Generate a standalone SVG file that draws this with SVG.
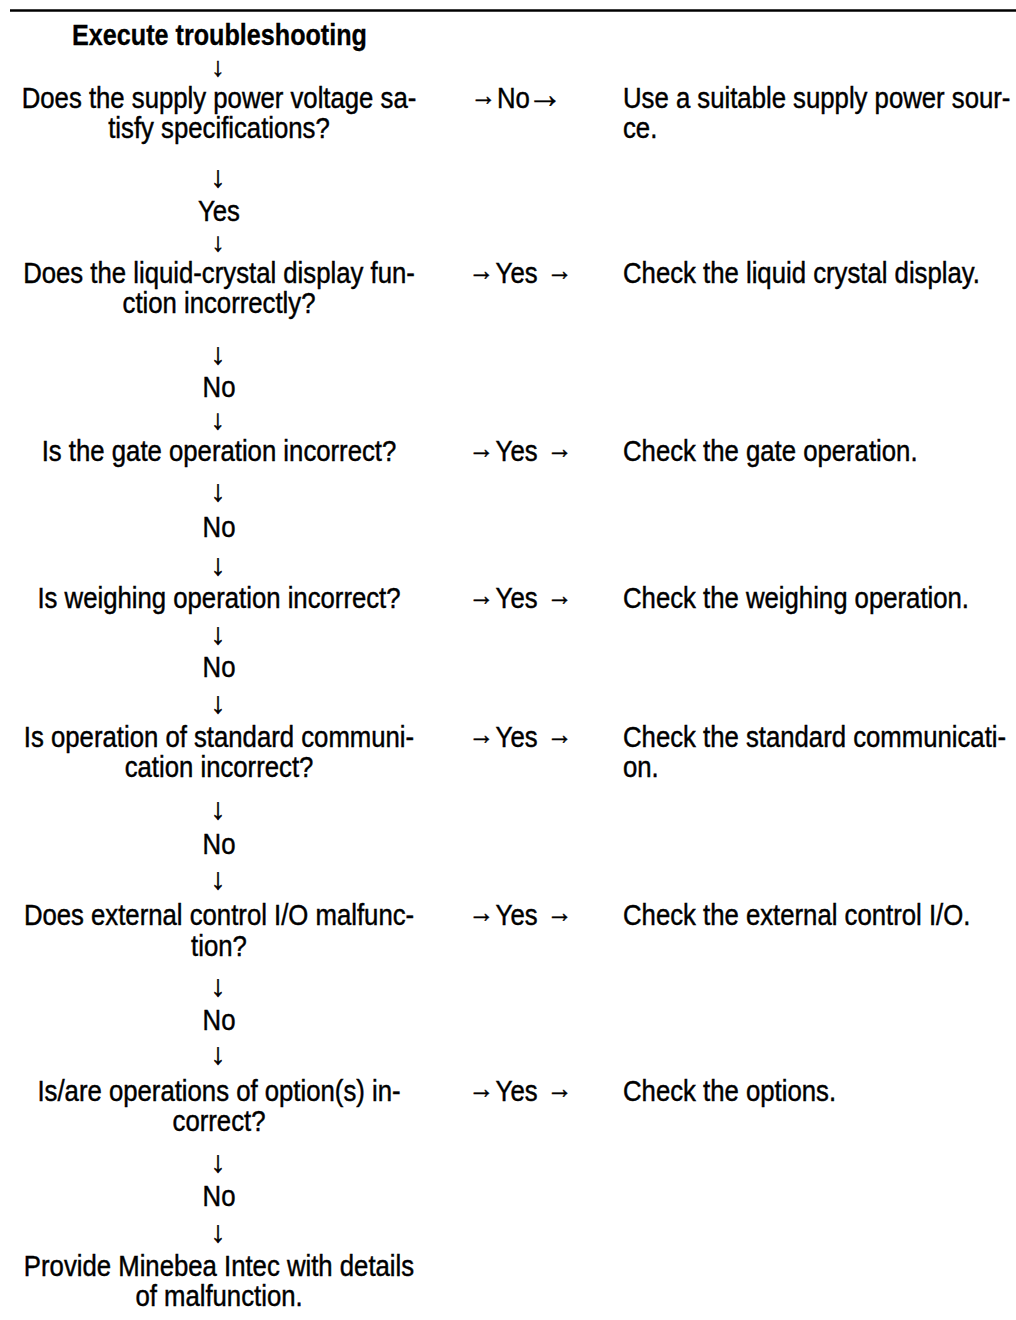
<svg xmlns="http://www.w3.org/2000/svg" width="1016" height="1320" viewBox="0 0 1016 1320">
  <style>
    text { font-family: "Liberation Sans", Arial, sans-serif; font-size: 29px; fill: #000; stroke: #000; stroke-width: 0.45px; }
    .b { font-weight: bold; stroke-width: 0.3px; }
    .m { text-anchor: middle; }
    .dn { font-size: 30px; stroke-width: 0.5px; }
    .ra2 { font-size: 40px; stroke-width: 0.4px; }
  </style>
  <rect width="1016" height="1320" fill="#fff"/>
  <!-- top rule -->
  <line x1="10" y1="10.5" x2="1016" y2="10.5" stroke="#000" stroke-width="2.5"/>

  <!-- left column: start, questions, end -->
  <g id="start" transform="matrix(0.868 0 0 1 219.5 0)">
    <text class="b m" y="45">Execute troubleshooting</text>
  </g>
  <g id="q-power" transform="matrix(0.887 0 0 1 219 0)">
    <text class="m" y="108">Does the supply power voltage sa-</text>
    <text class="m" y="138">tisfy specifications?</text>
  </g>
  <g id="q-display" transform="matrix(0.887 0 0 1 219 0)">
    <text class="m" y="283">Does the liquid-crystal display fun-</text>
    <text class="m" y="313">ction incorrectly?</text>
  </g>
  <g id="q-gate" transform="matrix(0.887 0 0 1 219 0)">
    <text class="m" y="461">Is the gate operation incorrect?</text>
  </g>
  <g id="q-weighing" transform="matrix(0.887 0 0 1 219 0)">
    <text class="m" y="608">Is weighing operation incorrect?</text>
  </g>
  <g id="q-comm" transform="matrix(0.887 0 0 1 219 0)">
    <text class="m" y="747">Is operation of standard communi-</text>
    <text class="m" y="777">cation incorrect?</text>
  </g>
  <g id="q-io" transform="matrix(0.887 0 0 1 219 0)">
    <text class="m" y="925">Does external control I/O malfunc-</text>
    <text class="m" y="956">tion?</text>
  </g>
  <g id="q-options" transform="matrix(0.887 0 0 1 219 0)">
    <text class="m" y="1101">Is/are operations of option(s) in-</text>
    <text class="m" y="1131">correct?</text>
  </g>
  <g id="end" transform="matrix(0.887 0 0 1 219 0)">
    <text class="m" y="1276">Provide Minebea Intec with details</text>
    <text class="m" y="1306">of malfunction.</text>
  </g>

  <!-- right column: remedies -->
  <g id="a-power" transform="matrix(0.887 0 0 1 623 0)">
    <text y="108">Use a suitable supply power sour-</text>
    <text y="138">ce.</text>
  </g>
  <g id="a-display" transform="matrix(0.887 0 0 1 623 0)">
    <text y="283">Check the liquid crystal display.</text>
  </g>
  <g id="a-gate" transform="matrix(0.887 0 0 1 623 0)">
    <text y="461">Check the gate operation.</text>
  </g>
  <g id="a-weighing" transform="matrix(0.887 0 0 1 623 0)">
    <text y="608">Check the weighing operation.</text>
  </g>
  <g id="a-comm" transform="matrix(0.887 0 0 1 623 0)">
    <text y="747">Check the standard communicati-</text>
    <text y="777">on.</text>
  </g>
  <g id="a-io" transform="matrix(0.887 0 0 1 623 0)">
    <text y="925">Check the external control I/O.</text>
  </g>
  <g id="a-options" transform="matrix(0.887 0 0 1 623 0)">
    <text y="1101">Check the options.</text>
  </g>

  <!-- connectors: downward flow arrows, Yes/No flow labels, branch arrows -->
  <g id="connectors">
    <g id="flow-arrows">
      <text class="m dn" x="218" y="75.8" style="font-size:27px">↓</text>
      <text class="m dn" x="218" y="186.5">↓</text>
      <text class="m dn" x="218" y="251" style="font-size:26px">↓</text>
      <text class="m dn" x="218" y="363.5">↓</text>
      <text class="m dn" x="218" y="428.6" style="font-size:28px">↓</text>
      <text class="m dn" x="218" y="500.5">↓</text>
      <text class="m dn" x="218" y="574.5">↓</text>
      <text class="m dn" x="218" y="644.3">↓</text>
      <text class="m dn" x="218" y="712.5">↓</text>
      <text class="m dn" x="218" y="818.5">↓</text>
      <text class="m dn" x="218" y="888.5">↓</text>
      <text class="m dn" x="218" y="995.5">↓</text>
      <text class="m dn" x="218" y="1063.5">↓</text>
      <text class="m dn" x="218" y="1171.5">↓</text>
      <text class="m dn" x="218" y="1241.5">↓</text>
    </g>
    <g id="flow-labels" transform="matrix(0.887 0 0 1 219 0)">
      <text class="m" y="221">Yes</text>
      <text class="m" y="397">No</text>
      <text class="m" y="537">No</text>
      <text class="m" y="677">No</text>
      <text class="m" y="854">No</text>
      <text class="m" y="1030">No</text>
      <text class="m" y="1206">No</text>
    </g>
    <!-- branch labels: per-glyph dx/dy tighten the arrows round the word -->
    <g id="branches" transform="matrix(0.887 0 0 1 0 0)">
      <text x="530.5" y="108" dx="0 -7.2" dy="-2.5 2.5">→ No<tspan class="ra2" dx="-3">→</tspan></text>
      <text x="528.2" y="283" dx="0 -6 0 0 0 0 2.3" dy="-2.5 2.5 0 0 0 0 -2.5">→ Yes →</text>
      <text x="528.2" y="461" dx="0 -6 0 0 0 0 2.3" dy="-2.5 2.5 0 0 0 0 -2.5">→ Yes →</text>
      <text x="528.2" y="608" dx="0 -6 0 0 0 0 2.3" dy="-2.5 2.5 0 0 0 0 -2.5">→ Yes →</text>
      <text x="528.2" y="747" dx="0 -6 0 0 0 0 2.3" dy="-2.5 2.5 0 0 0 0 -2.5">→ Yes →</text>
      <text x="528.2" y="925" dx="0 -6 0 0 0 0 2.3" dy="-2.5 2.5 0 0 0 0 -2.5">→ Yes →</text>
      <text x="528.2" y="1101" dx="0 -6 0 0 0 0 2.3" dy="-2.5 2.5 0 0 0 0 -2.5">→ Yes →</text>
    </g>
  </g>
</svg>
